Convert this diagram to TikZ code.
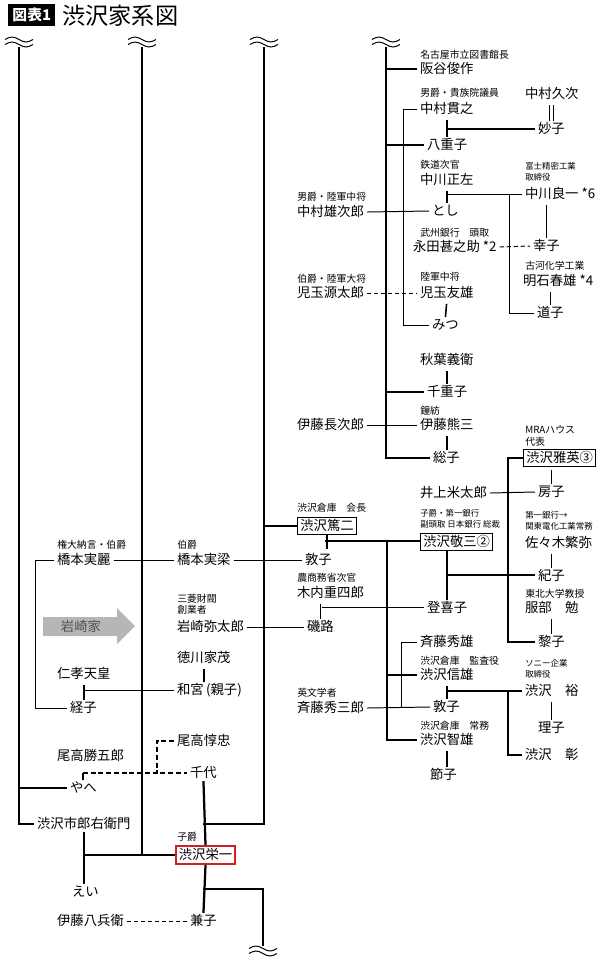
\documentclass[tikz,border=0pt]{standalone}
\usepackage{fontspec}
\setmainfont{Noto Sans CJK JP}
\usepackage{tikz}
\usetikzlibrary{positioning,calc,arrows.meta}
\definecolor{eired}{RGB}{214,30,40}
\definecolor{arrowgray}{RGB}{182,182,182}
\definecolor{housegray}{RGB}{80,80,80}

\tikzset{wavy/.pic={
  \draw[line width=0.7pt] (-14,-2.5) sin (-7,-5) cos (0,-2.5) sin (7,0) cos (14,-2.5);
  \draw[line width=0.7pt] (-14,2.5) sin (-7,0) cos (0,2.5) sin (7,5) cos (14,2.5);
}}

\begin{document}
\begin{tikzpicture}[x=0.025cm, y=-0.025cm,
  nm/.style={font=\fontsize{9.5}{11}\selectfont, anchor=west, inner xsep=2pt, inner ysep=1pt, text height=8pt, text depth=1pt},
  lbl/.style={font=\fontsize{7}{8}\selectfont, anchor=west, inner sep=0pt, align=left},
  slbl/.style={lbl, font=\fontsize{6}{7.5}\selectfont},
  boxnm/.style={nm, draw, line width=0.7pt, inner ysep=1.5pt},
  fam/.style={line width=1.6pt},
  mid/.style={line width=1.1pt},
  rel/.style={line width=0.7pt},
  dashrel/.style={rel, dash pattern=on 3pt off 2pt},
  tick/.style={mid, shorten <=2pt}]
  \useasboundingbox (0,0) rectangle (600,963);

  \node[fill=black, text=white, font=\bfseries\fontsize{10.5}{12}\selectfont,
        anchor=west, inner xsep=3pt, inner ysep=2.5pt] (tag) at (8,15) {図表1};
  \node[font=\fontsize{16.5}{18}\selectfont, anchor=west, inner sep=0pt] (title) at (62,16) {渋沢家系図};

  \coordinate (top1) at (19,47);
  \coordinate (top2) at (142,47);
  \coordinate (top3) at (264,47);
  \coordinate (top4) at (386,47);
  \pic at (19,42) {wavy};
  \pic at (142,42) {wavy};
  \pic at (264,42) {wavy};
  \pic at (386,42) {wavy};

  % right, upper branch
  \node[nm] (sakatani) at (417,69) {阪谷俊作};
  \node[lbl] (lSakatani) at (420,55) {名古屋市立図書館長};
  \node[nm] (nakamuraK) at (417,109) {中村貫之};
  \node[lbl] (lNakamuraK) at (420,93) {男爵・貴族院議員};
  \node[nm] (nakamuraH) at (522,94) {中村久次};
  \node[nm] (taeko) at (535,129) {妙子};
  \node[nm] (yaeko) at (424,145) {八重子};
  \node[nm] (nakagawaS) at (417,180) {中川正左};
  \node[lbl] (lNakagawaS) at (420,165) {鉄道次官};
  \node[nm] (nakagawaR) at (522,194) {中川良一 *6};
  \node[slbl] (lNakagawaR) at (525,172) {富士精密工業\\取締役};
  \node[nm] (nakamuraY) at (294,212) {中村雄次郎};
  \node[lbl] (lNakamuraY) at (297,197) {男爵・陸軍中将};
  \node[nm] (toshi) at (429,211) {とし};
  \node[nm] (nagata) at (410,247) {永田甚之助 *2};
  \node[lbl] (lNagata) at (420,233) {武州銀行　頭取};
  \node[nm] (sachiko) at (530,246) {幸子};
  \node[nm] (akashi) at (520,281) {明石春雄 *4};
  \node[lbl] (lAkashi) at (525,266) {古河化学工業};
  \node[nm] (michiko) at (534,313) {道子};
  \node[nm] (kodamaG) at (294,293) {児玉源太郎};
  \node[lbl] (lKodamaG) at (297,279) {伯爵・陸軍大将};
  \node[nm] (kodamaT) at (417,293) {児玉友雄};
  \node[lbl] (lKodamaT) at (420,277) {陸軍中将};
  \node[nm] (mitsu) at (429,325) {みつ};
  \node[nm] (akiba) at (417,360) {秋葉義衛};
  \node[nm] (chieko) at (424,392) {千重子};
  \node[nm] (itoC) at (294,425) {伊藤長次郎};
  \node[nm] (itoK) at (417,425) {伊藤熊三};
  \node[lbl] (lItoK) at (420,411) {鐘紡};
  \node[nm] (souko) at (430,458) {総子};

  % right, lower branch
  \node[boxnm] (masahide) at (523,458) {渋沢雅英③};
  \node[lbl] (lMasahide) at (525,436) {MRAハウス\\代表};
  \node[nm] (inoue) at (417,493) {井上米太郎};
  \node[nm] (fusako) at (535,492) {房子};
  \node[boxnm] (tokuji) at (297,526) {渋沢篤二};
  \node[lbl] (lTokuji) at (297,508) {渋沢倉庫　会長};
  \node[boxnm] (keizo) at (420,542) {渋沢敬三②};
  \node[slbl] (lKeizo) at (420,519) {子爵・第一銀行\\副頭取 日本銀行 総裁};
  \node[nm] (sasaki) at (522,543) {佐々木繁弥};
  \node[slbl] (lSasaki) at (525,521) {第一銀行→\\関東電化工業常務};
  \node[nm] (noriko) at (535,576) {紀子};
  \node[nm] (hattori) at (522,608) {服部　勉};
  \node[lbl] (lHattori) at (525,594) {東北大学教授};
  \node[nm] (reiko) at (535,642) {黎子};
  \node[nm] (atsukoA) at (302,560) {敦子};
  \node[nm] (kiuchi) at (294,593) {木内重四郎};
  \node[lbl] (lKiuchi) at (297,578) {農商務省次官};
  \node[nm] (tokiko) at (424,608) {登喜子};
  \node[nm] (isoji) at (304,627) {磯路};
  \node[nm] (saitoH) at (417,642) {斉藤秀雄};
  \node[nm] (nobuo) at (417,675) {渋沢信雄};
  \node[lbl] (lNobuo) at (420,661) {渋沢倉庫　監査役};
  \node[nm] (yutaka) at (522,691) {渋沢　裕};
  \node[slbl] (lYutaka) at (525,669) {ソニー企業\\取締役};
  \node[nm] (atsukoB) at (430,707) {敦子};
  \node[nm] (saitoS) at (294,708) {斉藤秀三郎};
  \node[lbl] (lSaitoS) at (297,693) {英文学者};
  \node[nm] (riko) at (535,728) {理子};
  \node[nm] (tomoo) at (417,740) {渋沢智雄};
  \node[lbl] (lTomoo) at (420,726) {渋沢倉庫　常務};
  \node[nm] (akira) at (522,755) {渋沢　彰};
  \node[nm] (setsuko) at (427,775) {節子};

  % left side
  \node[nm] (hashimotoR) at (54,560) {橋本実麗};
  \node[lbl] (lHashimotoR) at (57,545) {権大納言・伯爵};
  \node[nm] (hashimotoS) at (174,560) {橋本実梁};
  \node[lbl] (lHashimotoS) at (177,545) {伯爵};
  \fill[arrowgray] (43,617) -- (117,617) -- (117,608) -- (135,626) -- (117,644) -- (117,636) -- (43,636) -- cycle;
  \node[nm, anchor=center, text=housegray] (iwasakiK) at (81,627) {岩崎家};
  \node[nm] (iwasakiY) at (174,627) {岩崎弥太郎};
  \node[lbl] (lIwasakiY) at (177,604) {三菱財閥\\創業者};
  \node[nm] (tokugawa) at (174,658) {徳川家茂};
  \node[nm] (kazunomiya) at (174,690) {和宮\,(親子)};
  \node[nm] (ninko) at (54,674) {仁孝天皇};
  \node[nm] (tsuneko) at (67,708) {経子};
  \node[nm] (odakaJ) at (174,741) {尾高惇忠};
  \node[nm] (odakaK) at (54,756) {尾高勝五郎};
  \node[nm] (chiyo) at (187,773) {千代};
  \node[nm] (yahe) at (67,788) {やへ};
  \node[nm] (ichirouemon) at (34,824) {渋沢市郎右衛門};
  \node[nm, draw=eired, line width=1.4pt, inner ysep=2pt] (eiichi) at (175,855) {渋沢栄一};
  \node[lbl] (lEiichi) at (177,837) {子爵};
  \node[nm] (ei) at (69,892) {えい};
  \node[nm] (itoH) at (54,921) {伊藤八兵衛};
  \node[nm] (kaneko) at (187,921) {兼子};

  % junctions
  \coordinate (nb) at (403,109);
  \coordinate (mNk) at (447,129);
  \coordinate (mNs) at (447,194);
  \coordinate (jNs) at (509,194);
  \coordinate (mTk) at (325,541);
  \coordinate (v5) at (387,541);
  \coordinate (mKz) at (447,575);
  \coordinate (jKz) at (508,575);
  \coordinate (mKu) at (322,607);
  \coordinate (sh) at (401,642);
  \coordinate (mNo) at (447,691);
  \coordinate (jNo) at (508,691);
  \coordinate (hb) at (35,560);
  \coordinate (mNi) at (84,690);
  \coordinate (tOd) at (83,773);
  \coordinate (oj) at (157,773);
  \coordinate (j824) at (203,824);
  \coordinate (j889) at (203,889);
  \coordinate (bot3) at (263,946);

  % trunk lines
  \draw[fam] (top1) |- (ichirouemon.west);
  \draw[fam] (top1 |- yahe.west) -- (yahe.west);
  \draw[fam] (top2) -- (top2 |- eiichi.west);
  \draw[fam] (top3) |- (j824);
  \draw[fam] (top3 |- tokuji.west) -- (tokuji.west);
  \draw[fam] (top4) |- (souko.west);
  \draw[fam] (top4 |- sakatani.west) -- (sakatani.west);
  \draw[fam] (top4 |- yaeko.west) -- (yaeko.west);
  \draw[fam] (top4 |- chieko.west) -- (chieko.west);

  % upper right
  \draw[rel] (nakamuraK.west) -- (nb) |- (mitsu.west);
  \draw[tick] (nakamuraK.south) -- (nakamuraK.south |- yaeko.north);
  \draw[mid] (mNk) -- (mNk -| taeko.west);
  \draw[double, double distance=2pt, line width=0.6pt, shorten <=2pt]
       (taeko.north |- nakamuraH.south) -- (taeko.north);
  \draw[tick] (nakagawaS.south) -- (nakagawaS.south |- toshi.north);
  \draw[rel] (mNs) -- (mNs -| nakagawaR.west);
  \draw[rel] (jNs) |- (michiko.west);
  \draw[rel] (nakamuraY.east) -- (toshi.west);
  \draw[tick] (sachiko.north |- nakagawaR.south) -- (sachiko.north);
  \draw[dashrel] (nagata.east) -- (sachiko.west);
  \draw[tick] (michiko.north |- akashi.south) -- (michiko.north);
  \draw[dashrel] (kodamaG.east) -- (kodamaT.west);
  \draw[tick] (kodamaT.south) -- (mitsu.north);
  \draw[tick] (akiba.south) -- (akiba.south |- chieko.north);
  \draw[rel] (itoC.east) -- (itoK.west);
  \draw[tick] (itoK.south) -- (itoK.south |- souko.north);

  % lower right
  \draw[tick] (fusako.north |- masahide.south) -- (fusako.north);
  \draw[rel] (inoue.east) -- (fusako.west);
  \draw[mid, shorten >=2pt] (tokuji.south) -- (tokuji.south |- atsukoA.north);
  \draw[fam] (mTk) -- (mTk -| keizo.west);
  \draw[fam] (v5) |- (tomoo.west);
  \draw[fam] (v5 |- nobuo.west) -- (nobuo.west);
  \draw[fam] (tokiko.north |- keizo.south) -- (tokiko.north);
  \draw[fam] (mKz) -- (mKz -| noriko.west);
  \draw[fam] (masahide.west) -| (jKz) |- (reiko.west);
  \draw[tick] (noriko.north |- sasaki.south) -- (noriko.north);
  \draw[tick] (reiko.north |- hattori.south) -- (reiko.north);
  \draw[rel] (hashimotoS.east) -- (atsukoA.west);
  \draw[tick] (isoji.north |- kiuchi.south) -- (isoji.north);
  \draw[rel] (mKu) -- (mKu -| tokiko.west);
  \draw[rel] (iwasakiY.east) -- (isoji.west);
  \draw[rel] (saitoS.east) -- (atsukoB.west);
  \draw[rel] (saitoH.west) -- (sh) -- (sh |- atsukoB.west);
  \draw[tick] (nobuo.south) -- (nobuo.south |- atsukoB.north);
  \draw[fam] (mNo) -- (mNo -| yutaka.west);
  \draw[fam] (jNo) |- (akira.west);
  \draw[tick] (riko.north |- yutaka.south) -- (riko.north);
  \draw[tick] (tomoo.south) -- (tomoo.south |- setsuko.north);

  % left
  \draw[rel] (hashimotoR.east) -- (hashimotoS.west);
  \draw[rel] (hashimotoR.west) -- (hb) |- (tsuneko.west);
  \draw[tick] (tokugawa.south) -- (tokugawa.south |- kazunomiya.north);
  \draw[tick] (ninko.south) -- (ninko.south |- tsuneko.north);
  \draw[rel] (mNi) -- (mNi -| kazunomiya.west);
  \draw[mid] (tOd) -- (tOd |- yahe.north);
  \draw[fam, dash pattern=on 3.5pt off 2pt] (tOd) -- (chiyo.west);
  \draw[fam, dash pattern=on 3.5pt off 2pt] (odakaJ.west) -| (oj);
  \draw[fam] (chiyo.south) -- (eiichi.north);
  \draw[fam] (ichirouemon.south) -- (ichirouemon.south |- ei.north);
  \draw[fam] (ichirouemon.south |- eiichi.west) -- (eiichi.west);
  \draw[fam] (eiichi.south) -- (kaneko.north);
  \draw[fam] (j889) -| (bot3);
  \pic at (263,951) {wavy};
  \draw[dashrel] (itoH.east) -- (kaneko.west);
\end{tikzpicture}
\end{document}
